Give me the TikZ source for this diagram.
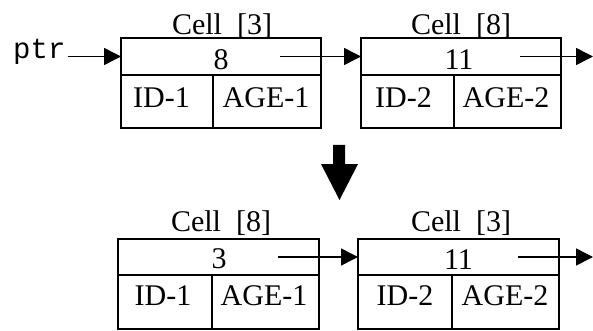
\documentclass[tikz,border=0pt]{standalone}
\usepackage{fontspec}
\setmainfont{Liberation Serif}
\setmonofont{Liberation Mono}
\usetikzlibrary{arrows.meta}
\begin{document}
\begin{tikzpicture}[x=1pt,y=-1pt,
  field/.style={draw, line width=1.8pt, inner sep=0pt, outer sep=0pt, anchor=north west, minimum height=#1},
  txt/.style={inner sep=0pt, anchor=base, font=\fontsize{30}{36}\selectfont},
  link/.style={line width=1.5pt, -{Triangle[length=17pt,width=17pt]}},
]
\useasboundingbox (0,0) rectangle (593,331);

% ---- before: Cell[3] -> Cell[8]
\node[field=37pt, minimum width=200pt] (aNext) at (121,38) {};
\node[field=53pt, minimum width=92pt]  (aId)   at (121,75) {};
\node[field=53pt, minimum width=108pt] (aAge)  at (213,75) {};
\node[txt] (aLbl) at (222,35) {Cell\ \ [3]};
\node[txt] at (221,70) {8};
\node[txt] at (161.5,108) {ID-1};
\node[txt] at (266,108) {AGE-1};

\node[field=37pt, minimum width=200pt] (bNext) at (361,38) {};
\node[field=53pt, minimum width=93pt]  (bId)   at (361,75) {};
\node[field=53pt, minimum width=107pt] (bAge)  at (454,75) {};
\node[txt] (bLbl) at (461,35) {Cell\ \ [8]};
\node[txt] at (459,70) {11};
\node[txt] at (403.5,108) {ID-2};
\node[txt] at (506,108) {AGE-2};

\node[inner sep=0pt, anchor=base west, font=\ttfamily\fontsize{29}{34}\selectfont] (ptr) at (13,59) {ptr};
\draw[link] ([xshift=2pt]ptr.east |- aNext.west) -- (aNext.west);
\coordinate (aFrom) at (280,56.5);
\draw[link] (aFrom) -- (bNext.west);
\coordinate (bFrom) at (520,56.5);
\coordinate (bTo) at (593,56.5);
\draw[link] (bFrom) -- (bTo);

% ---- transition arrow
\fill (333,145) -- (345,145) -- (345,164) -- (358,164) -- (339.5,200) -- (321,164) -- (333,164) -- cycle;

% ---- after: Cell[8] -> Cell[3]
\node[field=36pt, minimum width=201pt] (cNext) at (118,239) {};
\node[field=54pt, minimum width=94pt]  (cId)   at (118,275) {};
\node[field=54pt, minimum width=107pt] (cAge)  at (212,275) {};
\node[txt] (cLbl) at (221,231) {Cell\ \ [8]};
\node[txt] at (219,268) {3};
\node[txt] at (163,305) {ID-1};
\node[txt] at (264,305) {AGE-1};

\node[field=36pt, minimum width=201pt] (dNext) at (358,239) {};
\node[field=54pt, minimum width=94pt]  (dId)   at (358,275) {};
\node[field=54pt, minimum width=107pt] (dAge)  at (452,275) {};
\node[txt] (dLbl) at (461,231) {Cell\ \ [3]};
\node[txt] at (458.5,269) {11};
\node[txt] at (405,305) {ID-2};
\node[txt] at (505,305) {AGE-2};

\coordinate (cFrom) at (278,257);
\draw[link] (cFrom) -- (dNext.west);
\coordinate (dFrom) at (518,257);
\coordinate (dTo) at (593,257);
\draw[link] (dFrom) -- (dTo);
\end{tikzpicture}
\end{document}
